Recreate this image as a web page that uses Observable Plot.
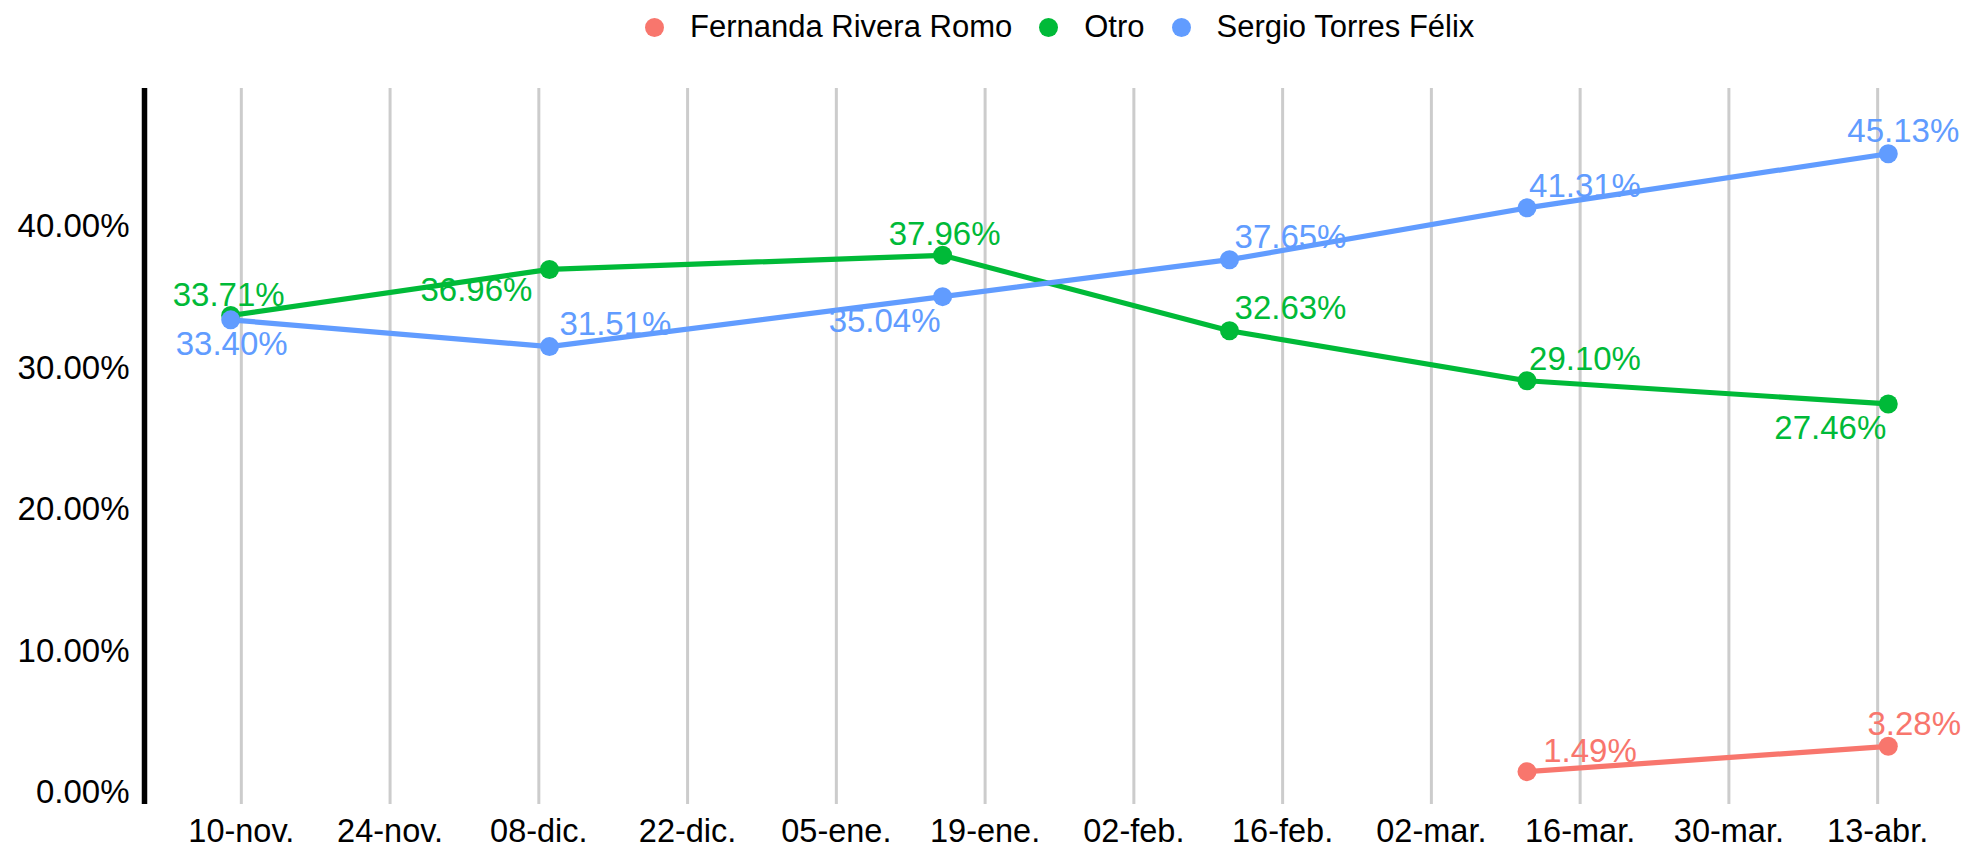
<!DOCTYPE html>
<html>
<head>
<meta charset="utf-8">
<script src="https://cdn.jsdelivr.net/npm/d3@7"></script>
<script src="https://cdn.jsdelivr.net/npm/@observablehq/plot@0.6"></script>
<style>
  html, body { margin: 0; padding: 0; background: #ffffff; }
  body { width: 1969px; height: 846px; overflow: hidden; font-family: "Liberation Sans", Arial, sans-serif; }
  #legend { height: 54px; display: flex; align-items: center; padding-left: 645px; box-sizing: border-box; font-size: 31px; color: #000; }
  .item { display: flex; align-items: center; margin-right: 27px; white-space: nowrap; }
  .dot { width: 19px; height: 19px; border-radius: 50%; margin-right: 26px; flex: none; }
  #chart svg { display: block; }
</style>
</head>
<body>
<div id="legend"></div>
<div id="chart"></div>
<script>
// ---- Data ----
const series = ["Fernanda Rivera Romo", "Otro", "Sergio Torres Félix"];
const seriesColors = ["#F8766D", "#00BA38", "#619CFF"];

const fechas = ["2024-11-09", "2024-12-09", "2025-01-15", "2025-02-11", "2025-03-11", "2025-04-14"];
const otro = [33.71, 36.96, 37.96, 32.63, 29.10, 27.46];
const sergio = [33.40, 31.51, 35.04, 37.65, 41.31, 45.13];
const fernandaFechas = ["2025-03-11", "2025-04-14"];
const fernanda = [1.49, 3.28];

const xTickDates = ["2024-11-10", "2024-11-24", "2024-12-08", "2024-12-22", "2025-01-05", "2025-01-19",
                    "2025-02-02", "2025-02-16", "2025-03-02", "2025-03-16", "2025-03-30", "2025-04-13"];
const xTickLabels = ["10-nov.", "24-nov.", "08-dic.", "22-dic.", "05-ene.", "19-ene.",
                     "02-feb.", "16-feb.", "02-mar.", "16-mar.", "30-mar.", "13-abr."];
const yTicks = [0, 10, 20, 30, 40];
const yTickLabels = ["0.00%", "10.00%", "20.00%", "30.00%", "40.00%"];

// label placement offsets (px) relative to each point (repel-like layout)
const nudgeFernanda = [[63, -20], [26, -22]];
const nudgeOtro = [[-2, -20], [-73, 21], [2, -21], [61, -22], [58, -21], [-58, 24]];
const nudgeSergio = [[1, 25], [66, -22], [-58, 25], [61, -22], [58, -21], [15, -22]];

// ---- Build table ----
const parse = s => new Date(s + "T00:00:00Z");
const rows = [];
function addSeries(name, dates, vals, nudges) {
  dates.forEach((d, i) => rows.push({
    serie: name, fecha: parse(d), valor: vals[i],
    label: vals[i].toFixed(2) + "%", nudge: nudges[i]
  }));
}
addSeries(series[0], fernandaFechas, fernanda, nudgeFernanda);
addSeries(series[1], fechas, otro, nudgeOtro);
addSeries(series[2], fechas, sergio, nudgeSergio);

// ---- Legend ----
const legend = document.getElementById("legend");
series.forEach((s, i) => {
  const it = document.createElement("div");
  it.className = "item";
  const dot = document.createElement("span");
  dot.className = "dot";
  dot.style.background = seriesColors[i];
  const t = document.createElement("span");
  t.textContent = s;
  it.appendChild(dot); it.appendChild(t);
  legend.appendChild(it);
});

// ---- Scales ----
const allDates = rows.map(r => r.fecha);
const dMin = d3.min(allDates), dMax = d3.max(allDates);
const span = dMax - dMin;
const xDomain = [new Date(+dMin - span * 0.052), new Date(+dMax + span * 0.049)];
const yDomain = [-0.83, 49.74];

const fontFamily = '"Liberation Sans", Arial, sans-serif';
const tickDates = xTickDates.map(parse);
const xLabelOf = new Map(tickDates.map((d, i) => [+d, xTickLabels[i]]));
const yLabelOf = new Map(yTicks.map((v, i) => [v, yTickLabels[i]]));

const labelMarks = rows.map(r => Plot.text([r], {
  x: "fecha", y: "valor", text: "label", fill: "serie",
  dx: r.nudge[0], dy: r.nudge[1], fontSize: 33, textAnchor: "middle", lineAnchor: "middle"
}));

const chart = Plot.plot({
  width: 1969,
  height: 846 - 54,
  marginTop: 34,
  marginBottom: 42,
  marginLeft: 144,
  marginRight: 0,
  style: { fontFamily, background: "#ffffff", overflow: "visible" },
  x: { type: "utc", domain: xDomain },
  y: { domain: yDomain },
  color: { domain: series, range: seriesColors },
  marks: [
    Plot.gridX(tickDates, { stroke: "#cccccc", strokeOpacity: 1, strokeWidth: 3 }),
    Plot.axisX(tickDates, {
      tickSize: 0, tickPadding: 14, fontSize: 32.5, fill: "#000",
      tickFormat: d => xLabelOf.get(+d), label: null
    }),
    Plot.axisY(yTicks, {
      tickSize: 0, tickPadding: 15, fontSize: 33, fill: "#000",
      tickFormat: v => yLabelOf.get(v), label: null
    }),
    Plot.ruleX([xDomain[0]], { stroke: "#000", strokeWidth: 5.5 }),
    Plot.line(rows, { x: "fecha", y: "valor", z: "serie", stroke: "serie", strokeWidth: 5.2, strokeLinecap: "butt" }),
    Plot.dot(rows, { x: "fecha", y: "valor", fill: "serie", r: 9.5 }),
    ...labelMarks
  ]
});
document.getElementById("chart").appendChild(chart);
</script>
</body>
</html>
